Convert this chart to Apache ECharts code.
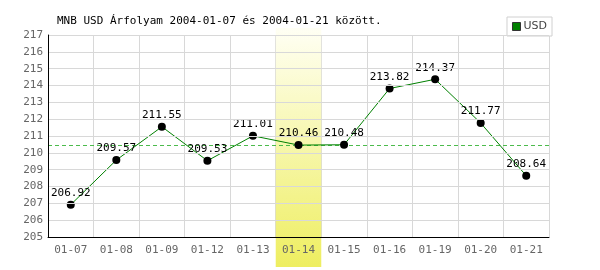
<!DOCTYPE html>
<html><head><meta charset="utf-8">
<script src="https://cdn.jsdelivr.net/npm/echarts@6/dist/echarts.min.js"></script>
<style>html,body{margin:0;padding:0;background:#fff}#c{width:600px;height:270px}</style>
</head><body><div id="c"></div>
<script>
const categories = ['01-07','01-08','01-09','01-12','01-13','01-14','01-15','01-16','01-19','01-20','01-21'];
const usdValues = [206.92, 209.57, 211.55, 209.53, 211.01, 210.46, 210.48, 213.82, 214.37, 211.77, 208.64];
const highlightValues = [0,0,0,0,0,1,0,0,0,0,0];
const yTicks = [205,206,207,208,209,210,211,212,213,214,215,216,217];
const titleText = 'MNB USD Árfolyam 2004-01-07 és 2004-01-21 között.';
const seriesName = 'USD';

const mono = 'DejaVu Sans Mono';
const refColor = '#4cbb4c';
const chart = echarts.init(document.getElementById('c'));
chart.setOption({
  animation: false,
  backgroundColor: '#fff',
  title: { text: titleText, left: 52, top: 11,
    textStyle: { fontFamily: mono, fontSize: 11, fontWeight: 'normal', color: '#000' } },
  legend: { data: [{ name: seriesName, itemStyle: { color: '#008000', borderColor: '#333', borderWidth: 1 } }],
    right: 48, top: 17, orient: 'vertical',
    backgroundColor: '#fff', borderColor: '#d0d0d0', borderWidth: 1, padding: [4, 5, 4, 5],
    itemWidth: 8, itemHeight: 8, itemGap: 4,
    icon: 'rect',
    textStyle: { fontFamily: 'DejaVu Sans', fontSize: 11, color: '#444', padding: [0,0,0,-2] } },
  grid: [
    { left: 48, right: 51, top: 35, bottom: 33 },
    { left: 48, right: 51, top: 28, bottom: 3 }
  ],
  xAxis: [
    { type: 'category', data: categories, gridIndex: 0, boundaryGap: true, position: 'bottom',
      axisLine: { show: false }, axisTick: { show: false }, axisLabel: { show: false },
      splitLine: { show: true, lineStyle: { color: '#d8d8d8', width: 1 } } },
    { type: 'category', data: categories, gridIndex: 1, boundaryGap: true, show: false },
    { type: 'category', data: categories, gridIndex: 0, boundaryGap: true, z: 10, position: 'bottom', offset: 0,
      axisLine: { show: true, onZero: false, lineStyle: { color: '#000', width: 1 } },
      axisTick: { show: false },
      axisLabel: { fontFamily: mono, fontSize: 11, color: '#666', margin: 8 },
      splitLine: { show: false } }
  ],
  yAxis: [
    { type: 'value', gridIndex: 0, min: yTicks[0], max: yTicks[yTicks.length-1], interval: 1, z: 10,
      axisLine: { show: true, lineStyle: { color: '#000', width: 1 } },
      axisTick: { show: false },
      axisLabel: { fontFamily: mono, fontSize: 11, color: '#666', margin: 5 },
      splitLine: { show: true, lineStyle: { color: '#d8d8d8', width: 1 } } },
    { type: 'value', gridIndex: 1, min: 0, max: 1, show: false }
  ],
  series: [
    { type: 'bar', xAxisIndex: 1, yAxisIndex: 1, data: highlightValues, barWidth: '100%', z: 1,
      silent: true, legendHoverLink: false,
      itemStyle: { color: new echarts.graphic.LinearGradient(0,0,0,1,[
        {offset: 0, color: '#fffff4'}, {offset: 1, color: '#eeee60'}]) } },
    { name: 'ref', type: 'line', xAxisIndex: 0, yAxisIndex: 0, data: usdValues, z: 4,
      silent: true, symbol: 'none', color: refColor,
      lineStyle: { opacity: 0 }, label: { show: false },
      markLine: { silent: true, symbol: 'none', label: { show: false },
        lineStyle: { color: refColor, type: [4, 3], width: 1, opacity: 1 },
        data: [{ type: 'median' }] } },
    { name: seriesName, type: 'line', xAxisIndex: 0, yAxisIndex: 0, data: usdValues, z: 5,
      symbol: 'circle', symbolSize: 8,
      itemStyle: { color: '#000' },
      lineStyle: { color: '#008000', width: 1 },
      label: { show: true, position: 'top', distance: 2, fontFamily: mono, fontSize: 11, color: '#000' } }
  ]
});
</script></body></html>
